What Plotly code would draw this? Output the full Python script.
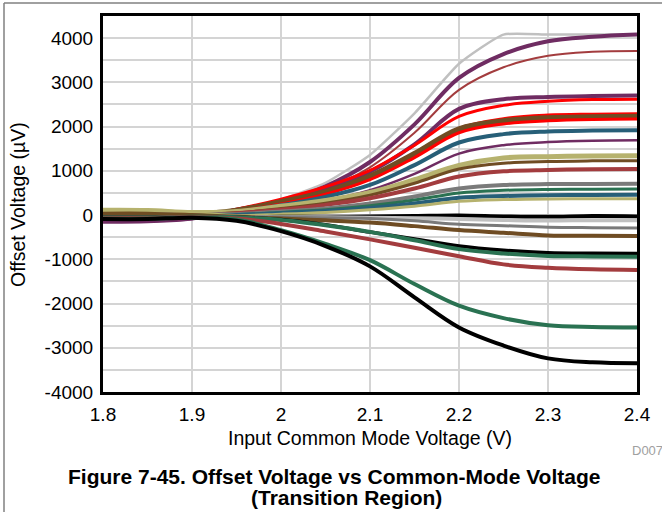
import plotly.graph_objects as go

# ---------------- data ----------------
vcm = [1.8, 1.85, 1.9, 1.95, 2.0, 2.05, 2.1, 2.15, 2.2, 2.25, 2.3, 2.35, 2.4]

s01 = [-120, -110, -60, 120, 350, 730, 1360, 2300, 3420, 4080, 4080, 4080, 4080]
s02 = [-150, -140, -80, 120, 300, 650, 1200, 2050, 3100, 3640, 3930, 4030, 4080]
s03 = [-100, -95, -60, 100, 270, 590, 1080, 1860, 2830, 3340, 3600, 3690, 3710]
s04 = [-130, -120, -70, 110, 320, 590, 980, 1600, 2400, 2620, 2670, 2690, 2700]
s05 = [-90, -80, -50, 130, 360, 640, 1010, 1580, 2230, 2480, 2570, 2610, 2620]
s06 = [-110, -100, -60, 90, 270, 500, 850, 1380, 1960, 2180, 2260, 2280, 2290]
s07 = [30, 30, 10, 100, 290, 520, 870, 1380, 1940, 2120, 2190, 2210, 2220]
s08 = [-70, -60, -40, 80, 250, 470, 800, 1300, 1860, 2060, 2130, 2160, 2170]
s09 = [-40, -40, -30, 70, 220, 410, 680, 1130, 1640, 1830, 1890, 1910, 1920]
s10 = [-150, -140, -80, 50, 170, 320, 560, 930, 1390, 1580, 1650, 1680, 1690]
s11 = [110, 105, 60, 80, 200, 330, 510, 800, 1120, 1290, 1320, 1335, 1340]
s12 = [40, 40, 20, 50, 150, 270, 450, 720, 1040, 1170, 1210, 1225, 1230]
s13 = [-20, -20, -20, 40, 120, 230, 380, 600, 870, 990, 1020, 1035, 1040]
s14 = [60, 55, 30, 20, 80, 150, 260, 420, 600, 680, 700, 700, 710]
s15 = [20, 20, 10, 10, 60, 120, 210, 340, 500, 560, 580, 585, 590]
s16 = [-60, -55, -40, 0, 40, 90, 160, 260, 390, 430, 450, 455, 460]
s17 = [100, 95, 60, -10, 20, 60, 120, 200, 310, 350, 365, 368, 370]
s18 = [0, 0, -10, -40, -40, -40, -30, -20, -10, -30, -40, -20, -30]
s19 = [10, 10, -10, -40, -50, -50, -60, -70, -90, -110, -125, -115, -120]
s20 = [-20, -20, -30, -40, -50, -60, -80, -130, -210, -240, -275, -285, -290]
s21 = [30, 30, 0, -40, -80, -120, -170, -250, -340, -400, -460, -470, -475]
s22 = [-40, -40, -40, -50, -100, -220, -385, -540, -700, -795, -850, -865, -870]
s23 = [-50, -50, -40, -50, -110, -230, -380, -570, -770, -868, -925, -935, -940]
s24 = [-60, -60, -50, -80, -200, -370, -550, -740, -930, -1115, -1190, -1225, -1240]
s25 = [-80, -80, -60, -100, -340, -650, -1020, -1560, -2050, -2330, -2490, -2530, -2540]
s26 = [-90, -90, -60, -130, -365, -700, -1160, -1860, -2540, -2950, -3240, -3330, -3350]

series = [s01, s02, s03, s04, s05, s06, s07, s08, s09, s10, s11, s12, s13,
          s14, s15, s16, s17, s18, s19, s20, s21, s22, s23, s24, s25, s26]

PURPLE = "#6F2C62"
BROWNRED = "#A33C3E"
RED = "#FF0000"
BROWN = "#6F4C23"
TEAL = "#275F78"
KHAKI = "#B6B26E"
GRAY = "#7A7A7A"
LGRAY = "#C0C0C0"
GREEN = "#2A7252"
BLACK = "#000000"

colors = [LGRAY, PURPLE, BROWNRED, PURPLE, RED, RED, BROWN, RED, TEAL, PURPLE,
          KHAKI, BROWN, BROWNRED, GRAY, GREEN, TEAL, KHAKI, BLACK, LGRAY, GRAY,
          BROWN, BLACK, GREEN, BROWNRED, GREEN, BLACK]
widths = [2.5, 4, 2, 4, 3, 3, 6, 3, 4, 2.5,
          5, 3, 4, 4, 3, 4, 3, 4, 4, 3,
          4, 3.5, 4, 4, 4, 4]
smooth = [0.5] + [1.0] * 25

y_ticks = [-4000, -3000, -2000, -1000, 0, 1000, 2000, 3000, 4000]
y_ticktext = ["-4000", "-3000", "-2000", "-1000", "0", "1000", "2000", "3000", "4000"]
x_ticks = [1.8, 1.9, 2.0, 2.1, 2.2, 2.3, 2.4]
x_ticktext = ["1.8", "1.9", "2", "2.1", "2.2", "2.3", "2.4"]

# ---------------- figure ----------------
fig = go.Figure()
for ys, c, w, sm in zip(series, colors, widths, smooth):
    fig.add_trace(go.Scatter(x=vcm, y=ys, mode="lines",
                             line=dict(color=c, width=w, shape="spline", smoothing=sm),
                             showlegend=False, hoverinfo="skip"))

L, R, T, B = 103, 637, 16, 392
W, H = 662, 512

def px(x):
    return (x - L) / (R - L)

def py(y):
    return (B - y) / (B - T)

FONT = "Liberation Sans, Arial, sans-serif"

fig.update_layout(
    width=W, height=H,
    margin=dict(l=L, r=W - R, t=T, b=H - B, pad=0),
    paper_bgcolor="white", plot_bgcolor="white",
    font=dict(family=FONT, color="black", size=18),
    xaxis=dict(range=[1.8, 2.4], tickvals=x_ticks, ticktext=x_ticktext,
               showgrid=True, gridcolor="#D4D4D4", gridwidth=1.5,
               showline=True, linecolor="black", linewidth=3, mirror=True,
               ticks="", zeroline=False, tickfont=dict(size=19),
               ticklabelstandoff=3),
    yaxis=dict(range=[-4000, 4500], tickvals=y_ticks, ticktext=y_ticktext,
               showgrid=True, gridcolor="#D4D4D4", gridwidth=1.5,
               minor=dict(tickvals=[-3500, -2500, -1500, -500, 500, 1500, 2500, 3500],
                          showgrid=True, gridcolor="#D4D4D4", gridwidth=1.5, ticks=""),
               showline=True, linecolor="black", linewidth=3, mirror=True,
               ticks="", zeroline=False, tickfont=dict(size=19),
               ticklabelstandoff=3),
)

fig.add_annotation(x=px(18), y=py(205), xref="paper", yref="paper",
                   text="Offset Voltage (µV)", textangle=-90, showarrow=False,
                   font=dict(size=19.5), xanchor="center", yanchor="middle")
fig.add_annotation(x=0.5, y=py(438), xref="paper", yref="paper",
                   text="Input Common Mode Voltage (V)", showarrow=False,
                   font=dict(size=19.5), xanchor="center", yanchor="middle")
fig.add_annotation(x=px(630), y=py(450), xref="paper", yref="paper",
                   text="D007", showarrow=False, font=dict(size=13, color="#A0A0A0"),
                   xanchor="left", yanchor="middle")
fig.add_annotation(x=px(334), y=py(476), xref="paper", yref="paper",
                   text="<b>Figure 7-45. Offset Voltage vs Common-Mode Voltage</b>",
                   showarrow=False, font=dict(size=21), xanchor="center", yanchor="middle")
fig.add_annotation(x=px(346), y=py(497), xref="paper", yref="paper",
                   text="<b>(Transition Region)</b>",
                   showarrow=False, font=dict(size=21), xanchor="center", yanchor="middle")

# outer frame (top and left edges)
fig.add_shape(type="line", xref="paper", yref="paper",
              x0=px(4), x1=px(700), y0=py(3), y1=py(3),
              line=dict(color="#808080", width=1.5))
fig.add_shape(type="line", xref="paper", yref="paper",
              x0=px(4), x1=px(4), y0=py(3), y1=py(520),
              line=dict(color="#808080", width=1.5))

fig.write_html("out.html", config={"displayModeBar": False},
               post_script="document.body.style.margin='0';document.body.style.overflow='hidden';")
